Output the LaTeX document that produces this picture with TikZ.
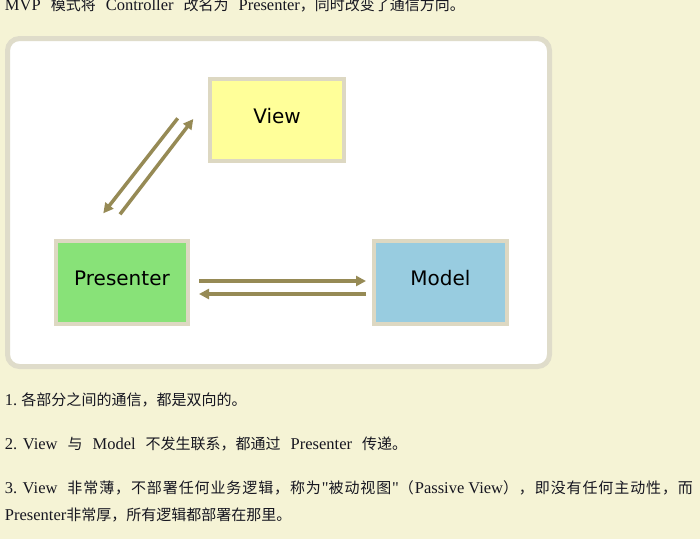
\documentclass[tikz,border=0pt]{standalone}
\usepackage{fontspec}
\newfontfamily\lat{Liberation Serif}
\newfontfamily\cjk{Noto Sans CJK SC}
\newfontfamily\lbl{DejaVu Sans}
\usetikzlibrary{arrows.meta,calc}
\definecolor{bgc}{HTML}{F5F3D5}
\definecolor{panelb}{HTML}{DFDCCA}
\definecolor{boxb}{HTML}{DDD8C2}
\definecolor{viewc}{HTML}{FFFF99}
\definecolor{presc}{HTML}{88E278}
\definecolor{modc}{HTML}{98CCE0}
\definecolor{arrc}{HTML}{968A55}
\definecolor{txtc}{HTML}{161620}
\newcommand\zh[1]{{\fontsize{15}{18}\selectfont\cjk #1}}
\newcommand\gp{\hskip 10pt\relax}
\def\spreadloop#1{\ifx#1\relax\else#1\hskip 0pt plus 1pt\relax\expandafter\spreadloop\fi}
\newcommand\zhs[1]{{\fontsize{15}{18}\selectfont\cjk\spreadloop#1\relax}}
\begin{document}
\begin{tikzpicture}[x=1pt,y=-1pt,
  txt/.style={inner sep=0pt, outer sep=0pt, text=txtc, font={\fontsize{16.5}{20}\selectfont\lat}},
  box/.style={draw=boxb, line width=4pt, outer sep=0pt, inner sep=0pt, text depth=9pt, font={\fontsize{20}{24}\selectfont\lbl}},
  arr/.style={draw=arrc, line width=3.5pt, -{Triangle[length=10pt,width=10pt]}}]
\useasboundingbox (0,0) rectangle (700,539);
\fill[bgc] (0,0) rectangle (700,539);
\draw[draw=panelb, line width=5pt, fill=white, rounded corners=12pt] (7.5,38.5) rectangle (549.5,366.5);
\node[box, fill=viewc, minimum width=134pt, minimum height=82pt] (view) at (277,120) {View};
\node[box, fill=presc, minimum width=132pt, minimum height=83pt] (pres) at (122,282.5) {Presenter};
\node[box, fill=modc, minimum width=133pt, minimum height=83pt] (model) at (440.5,282.5) {Model};
\draw[arr] ($(view.west)+(-32.3,-1.7)$) -- ($(pres.north)+(-18.7,-27.7)$);
\draw[arr] ($(pres.north)+(-2,-26.7)$) -- ($(view.west)+(-16.7,-1)$);
\draw[arr] ($(pres.east)+(11,-1.5)$) -- ($(model.west)+(-8,-1.5)$);
\draw[arr] ($(model.west)+(-8,11.5)$) -- ($(pres.east)+(11,11.5)$);
\node[txt, anchor=base west] (t0) at (5,10.5) {MVP\gp\zh{模式将}\gp Controller\gp\zh{改名为}\gp Presenter\zh{，同时改变了通信方向。}};
\node[txt, anchor=base west] (t1) at (5,405) {1.\ \zh{各部分之间的通信，都是双向的。}};
\node[txt, anchor=base west] (t2) at (5,449) {2. View\gp\zh{与}\gp Model\gp\zh{不发生联系，都通过}\gp Presenter\gp\zh{传递。}};
\node[txt, anchor=base west, text width=688pt, align=justify] (t3) at (5,493) {\hbadness=10000\relax\spaceskip=4pt\relax\parfillskip=0pt\relax\noindent 3. View\gp\zhs{非常薄，不部署任何业务逻辑，称为}"\zhs{被动视图}"\zhs{（}Passive View\zhs{），即没有任何主动性，而}\par};
\node[txt, anchor=base west] (t4) at (5,520) {Presenter\zh{非常厚，所有逻辑都部署在那里。}};
\end{tikzpicture}
\end{document}
